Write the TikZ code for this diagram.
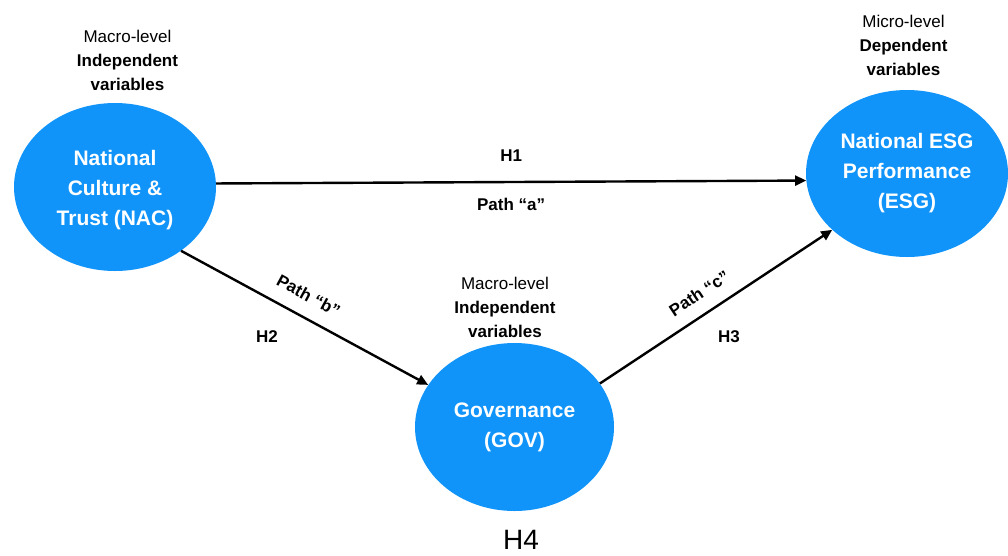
\documentclass[tikz,border=0pt]{standalone}
\usepackage{fontspec}
\setmainfont{Liberation Sans}
\usetikzlibrary{arrows.meta,shapes.geometric}
\definecolor{nodeblue}{RGB}{17,148,250}
\tikzset{
  var/.style={ellipse, fill=nodeblue, draw=none, inner sep=0pt,
    text=white, align=center, font=\fontsize{21}{30}\selectfont\bfseries},
  levellabel/.style={align=center, inner sep=0pt, font=\fontsize{17}{24}\selectfont},
  hlabel/.style={inner sep=0pt, font=\fontsize{17}{20}\selectfont\bfseries},
  link/.style={line width=2.4pt, -{Triangle[length=11pt,width=10pt]}},
}
\begin{document}
\begin{tikzpicture}[x=1pt,y=-1pt]
\useasboundingbox (0,0) rectangle (1008,555);

\node[var, minimum width=202pt, minimum height=168pt] (nac) at (115,187)
  {\\[-8pt]National\\Culture \&\\Trust (NAC)};
\node[var, minimum width=202pt, minimum height=167pt] (esg) at (907,173.5)
  {National ESG\\Performance\\(ESG)};
\node[var, minimum width=199pt, minimum height=168pt] (gov) at (514.5,427)
  {Governance\\(GOV)};

\node[levellabel] (lvlnac) at (127.5,60) {Macro-level\\\textbf{Independent}\\\textbf{variables}};
\node[levellabel] (lvlesg) at (903.5,45.5) {Micro-level\\\textbf{Dependent}\\\textbf{variables}};
\node[levellabel] (lvlgov) at (505,307) {Macro-level\\\textbf{Independent}\\\textbf{variables}};

\draw[link] (nac.2) -- node[hlabel, above=19pt] (h1) {H1}
  node[hlabel, below=15pt] (pa) {Path “a”} (esg.184);
\draw[link] (nac.-44) -- node[hlabel, sloped, pos=0.475, above=14pt] (pb) {Path “b”} (gov.154.4);
\draw[link] (gov.27.5) -- node[hlabel, sloped, pos=0.476, above=13pt] (pc) {Path “c”} (esg.217.4);

\node[hlabel] (h2) at (267,337) {H2};
\node[hlabel] (h3) at (729,337) {H3};
\node[inner sep=0pt, font=\fontsize{28}{32}\selectfont] (h4) at (521,540) {H4};
\end{tikzpicture}
\end{document}
